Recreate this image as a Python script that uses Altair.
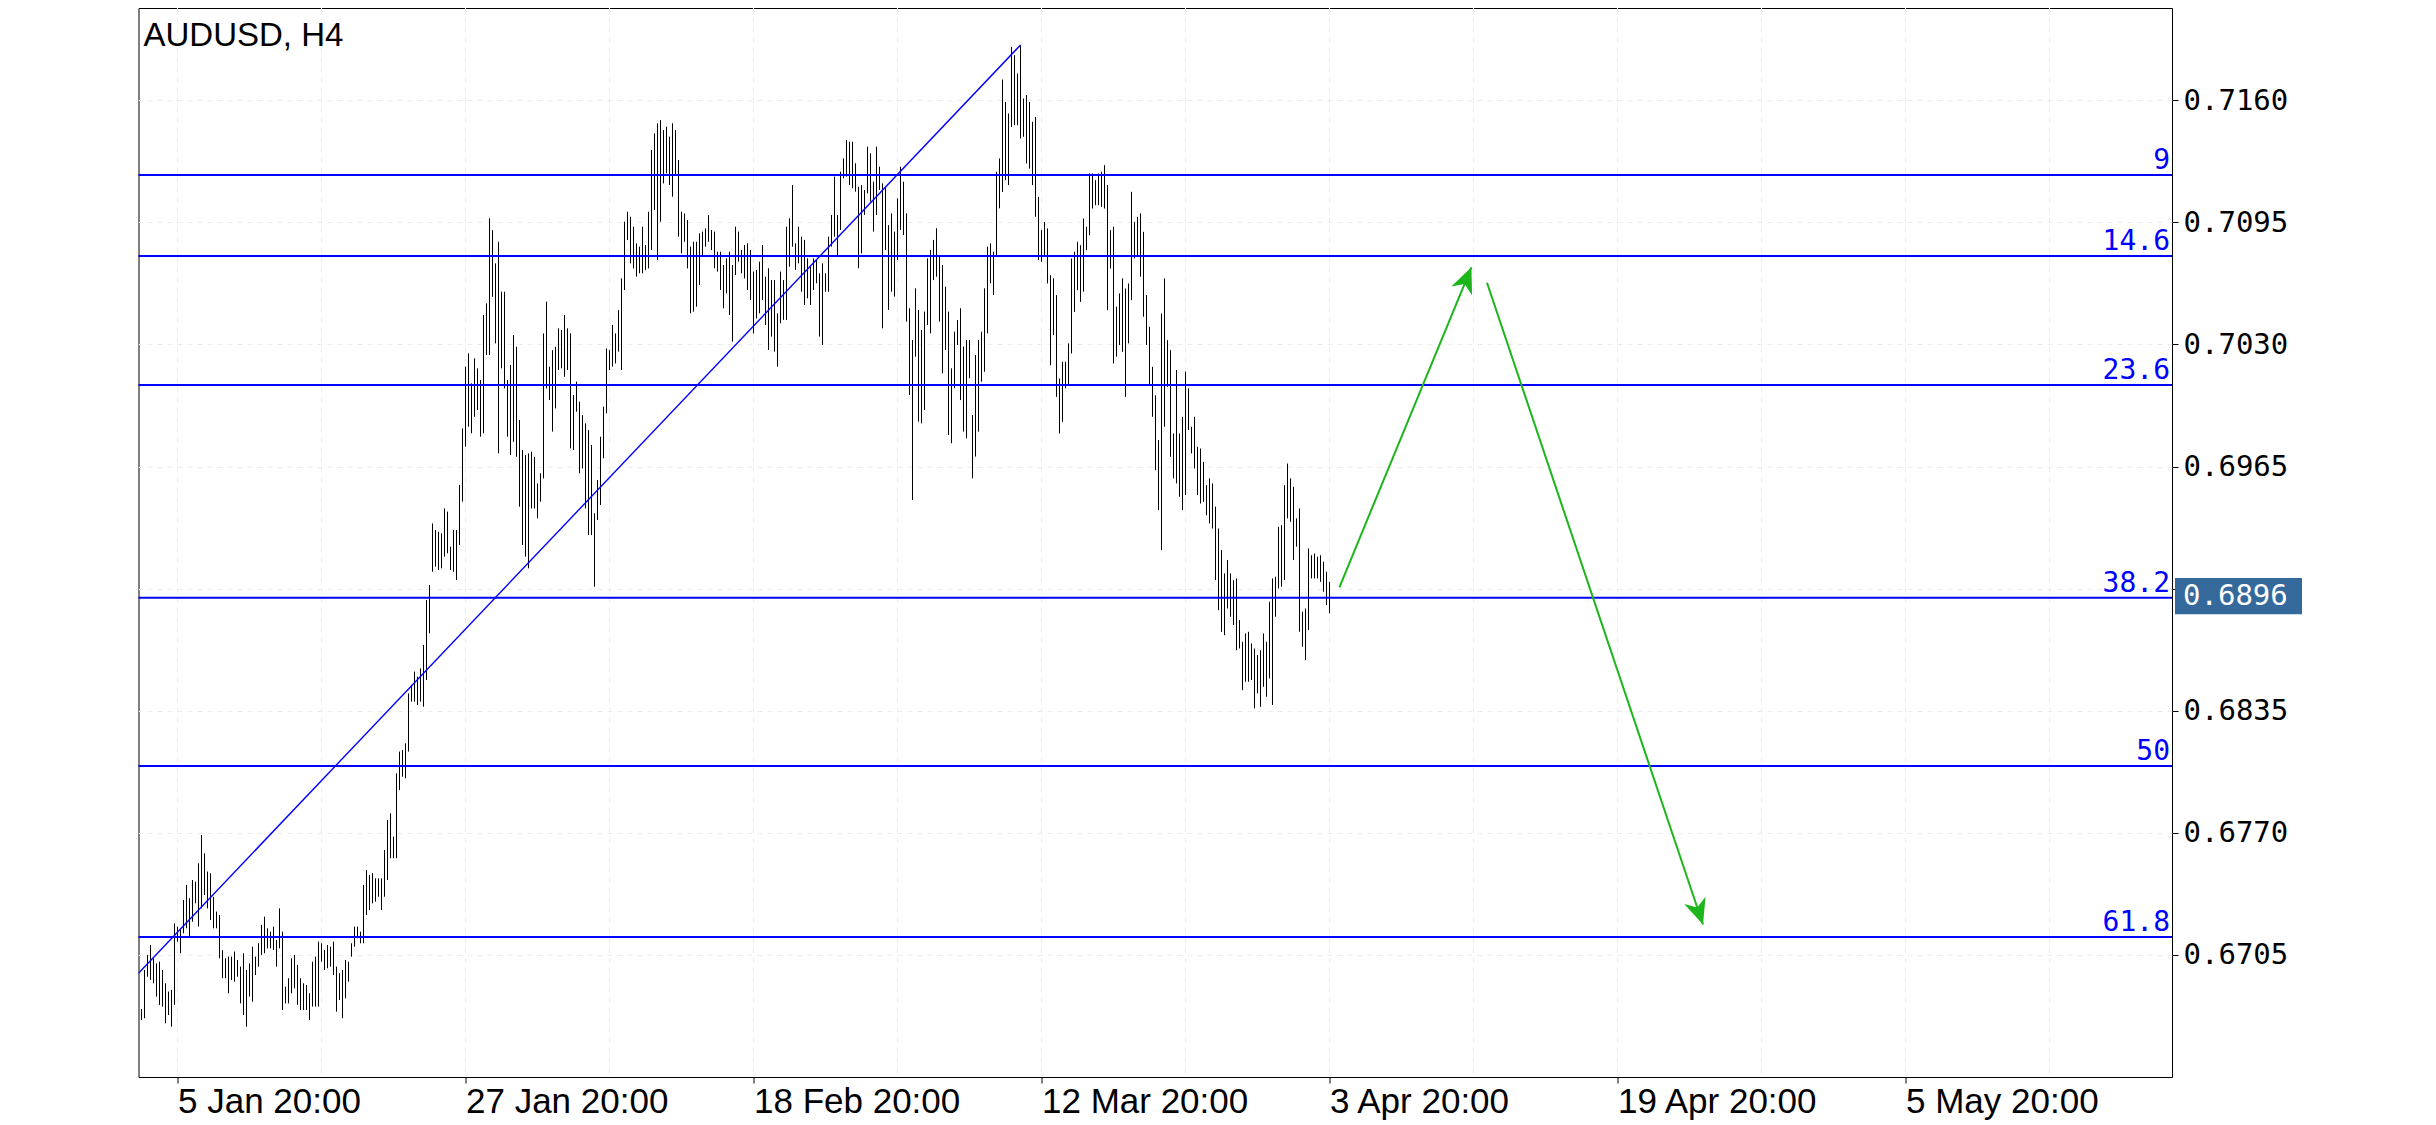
import math
import altair as alt
import pandas as pd

SYMBOL = "AUDUSD, H4"

HIGHS = [
    0.66761, 0.66969, 0.67049, 0.67102, 0.67031, 0.67004, 0.67013, 0.66969, 0.66898, 0.66854,
    0.66863, 0.67217, 0.67200, 0.67182, 0.67342, 0.67422, 0.67351, 0.67448, 0.67439, 0.67537,
    0.67688, 0.67590, 0.67493, 0.67484, 0.67359, 0.67280, 0.67262, 0.67075, 0.67031, 0.67040,
    0.67040, 0.67067, 0.67022, 0.66987, 0.67058, 0.66969, 0.67004, 0.67093, 0.67040, 0.67111,
    0.67209, 0.67253, 0.67191, 0.67173, 0.67200, 0.67129, 0.67297, 0.67173, 0.66880, 0.66925,
    0.67031, 0.67049, 0.66996, 0.66925, 0.66898, 0.66889, 0.66845, 0.67013, 0.67040, 0.67120,
    0.67111, 0.67075, 0.67102, 0.67093, 0.67120, 0.66987, 0.66951, 0.66969, 0.67022, 0.67013,
    0.67111, 0.67200, 0.67200, 0.67173, 0.67422, 0.67501, 0.67475, 0.67484, 0.67457, 0.67457,
    0.67457, 0.67608, 0.67768, 0.67803, 0.67679, 0.68016, 0.68132, 0.68140, 0.68176, 0.68442,
    0.68487, 0.68558, 0.68531, 0.68575, 0.68700, 0.68939,
    0.69019, 0.69347, 0.69312, 0.69303, 0.69294, 0.69427, 0.69410, 0.69223, 0.69312, 0.69312,
    0.69552, 0.69853, 0.70182, 0.70253, 0.70093, 0.70226, 0.70173, 0.70111, 0.70457, 0.70519,
    0.70972, 0.70909, 0.70732, 0.70847, 0.70581, 0.70581, 0.70111, 0.70191, 0.70350, 0.70288,
    0.69898, 0.69738, 0.69711, 0.69720, 0.69729, 0.69702, 0.69560, 0.69614, 0.70359, 0.70528,
    0.70182, 0.70270, 0.70288, 0.70386, 0.70377, 0.70457, 0.70386, 0.70359, 0.70031, 0.70102,
    0.69995, 0.69924, 0.69880, 0.69844, 0.69765, 0.69401, 0.69578, 0.69809, 0.69969, 0.70279,
    0.70270, 0.70404, 0.70359, 0.70483, 0.70652, 0.70954, 0.71007, 0.70980, 0.70927, 0.70838,
    0.70821, 0.70927, 0.70830, 0.71007, 0.71336, 0.71424, 0.71478, 0.71495, 0.71442, 0.71460,
    0.71407, 0.71478, 0.71442, 0.71282, 0.71007, 0.70998, 0.70963, 0.70821, 0.70847, 0.70847,
    0.70892, 0.70901, 0.70918, 0.70989,
    0.70910, 0.70901, 0.70794, 0.70794, 0.70723, 0.70759, 0.70794, 0.70723, 0.70927, 0.70901,
    0.70803, 0.70830, 0.70839, 0.70803, 0.70688, 0.70697, 0.70741, 0.70830, 0.70661, 0.70706,
    0.70643, 0.70643, 0.70466, 0.70688, 0.70643, 0.70927, 0.70972, 0.71149, 0.70839, 0.70927,
    0.70874, 0.70857, 0.70759, 0.70714, 0.70759, 0.70750, 0.70679, 0.70732, 0.70679, 0.70874,
    0.70990, 0.71194, 0.70990, 0.71220, 0.71291, 0.71389, 0.71380, 0.71380, 0.71265, 0.71140,
    0.71149, 0.71123, 0.71353, 0.71318, 0.71167, 0.71353, 0.71247, 0.71158, 0.71140, 0.70936,
    0.70998, 0.70901, 0.71078, 0.71247, 0.71167, 0.70998, 0.70493, 0.70324, 0.70599, 0.70484,
    0.70377, 0.70475, 0.70759, 0.70803, 0.70857, 0.70919, 0.70768, 0.70723, 0.70608, 0.70475,
    0.70173, 0.70368, 0.70430, 0.70493, 0.70289, 0.70324, 0.70324, 0.69925, 0.70244, 0.70324,
    0.70368, 0.70599, 0.70821, 0.70839, 0.70794, 0.71220, 0.71291,
    0.71711, 0.71592, 0.71530, 0.71885, 0.71841, 0.71743, 0.71894, 0.71610, 0.71628, 0.71592,
    0.71486, 0.71512, 0.71086, 0.70909, 0.70953, 0.70918, 0.70669, 0.70652, 0.70563, 0.70119,
    0.70208, 0.70208, 0.70306, 0.70758, 0.70794, 0.70847, 0.70829, 0.70971, 0.70927, 0.71211,
    0.71211, 0.71175, 0.71211, 0.71220, 0.71255, 0.71149, 0.70909, 0.70927, 0.70501, 0.70572,
    0.70652, 0.70598, 0.70625, 0.71113, 0.70953, 0.70980, 0.70998, 0.70900, 0.70563, 0.70394,
    0.70181, 0.70030, 0.69791, 0.70465, 0.70652, 0.70323, 0.70270, 0.69826, 0.70164, 0.69826,
    0.69915, 0.70155, 0.70066,
    0.69862, 0.69915, 0.69755, 0.69746, 0.69675, 0.69551, 0.69587, 0.69560, 0.69436, 0.69320,
    0.69205, 0.69081, 0.69152, 0.69081, 0.69045, 0.69054, 0.68832, 0.68717, 0.68761, 0.68770,
    0.68708, 0.68681, 0.68646, 0.68672, 0.68761, 0.68717, 0.68930, 0.69054, 0.69063, 0.69329,
    0.69338, 0.69551, 0.69666, 0.69587, 0.69542, 0.69374, 0.69427, 0.68877, 0.68894, 0.69214,
    0.69178, 0.69187, 0.69170, 0.69178, 0.69143, 0.69090, 0.69036,
]

LOWS = [
    0.66703, 0.66712, 0.66933, 0.66916, 0.66898, 0.66827, 0.66783, 0.66774, 0.66685, 0.66729,
    0.66667, 0.66783, 0.67120, 0.67058, 0.67164, 0.67191, 0.67146, 0.67226, 0.67324, 0.67200,
    0.67297, 0.67368, 0.67297, 0.67235, 0.67191, 0.67191, 0.67031, 0.66925, 0.66925, 0.66845,
    0.66916, 0.66907, 0.66933, 0.66791, 0.66729, 0.66667, 0.66827, 0.66800, 0.66942, 0.66987,
    0.67049, 0.67058, 0.67084, 0.67084, 0.67075, 0.66987, 0.67084, 0.66756, 0.66791, 0.66791,
    0.66845, 0.66871, 0.66783, 0.66756, 0.66756, 0.66756, 0.66703, 0.66774, 0.66774, 0.66774,
    0.67013, 0.66969, 0.66978, 0.66987, 0.66942, 0.66747, 0.66809, 0.66712, 0.66818, 0.66907,
    0.67040, 0.67093, 0.67138, 0.67111, 0.67111, 0.67262, 0.67288, 0.67324, 0.67333, 0.67359,
    0.67288, 0.67359, 0.67448, 0.67564, 0.67564, 0.67564, 0.67927, 0.67998, 0.67990, 0.68132,
    0.68398, 0.68398, 0.68380, 0.68398, 0.68371, 0.68513,
    0.68762, 0.69090, 0.69117, 0.69099, 0.69108, 0.69170, 0.69188, 0.69099, 0.69090, 0.69046,
    0.69232, 0.69463, 0.69756, 0.69862, 0.69827, 0.69915, 0.69951, 0.69809, 0.69827, 0.70244,
    0.70244, 0.70554, 0.70306, 0.69720, 0.70173, 0.70066, 0.69809, 0.69711, 0.69782, 0.69702,
    0.69436, 0.69232, 0.69170, 0.69108, 0.69427, 0.69427, 0.69374, 0.69463, 0.69587, 0.70066,
    0.70004, 0.69836, 0.69960, 0.70164, 0.70173, 0.70128, 0.70164, 0.69747, 0.69738, 0.69942,
    0.69614, 0.69640, 0.69427, 0.69285, 0.69285, 0.69010, 0.69365, 0.69445, 0.69694, 0.69933,
    0.70164, 0.70182, 0.70199, 0.70262, 0.70164, 0.70590, 0.70856, 0.70732, 0.70705, 0.70661,
    0.70679, 0.70679, 0.70696, 0.70705, 0.70803, 0.71016, 0.70750, 0.70954, 0.71158, 0.71211,
    0.71149, 0.71087, 0.71202, 0.70874, 0.70785, 0.70847, 0.70705, 0.70466, 0.70475, 0.70501,
    0.70617, 0.70776, 0.70821, 0.70847,
    0.70803, 0.70706, 0.70688, 0.70590, 0.70493, 0.70572, 0.70457, 0.70315, 0.70670, 0.70741,
    0.70679, 0.70652, 0.70590, 0.70537, 0.70359, 0.70439, 0.70466, 0.70537, 0.70404, 0.70271,
    0.70342, 0.70262, 0.70182, 0.70413, 0.70431, 0.70431, 0.70714, 0.70821, 0.70697, 0.70732,
    0.70581, 0.70510, 0.70546, 0.70510, 0.70590, 0.70626, 0.70342, 0.70297, 0.70581, 0.70581,
    0.70821, 0.70874, 0.70768, 0.70910, 0.71185, 0.71194, 0.71149, 0.71132, 0.71114, 0.70706,
    0.70785, 0.70990, 0.71105, 0.71061, 0.70901, 0.70990, 0.71123, 0.70386, 0.70803, 0.70484,
    0.70581, 0.70555, 0.70750, 0.70910, 0.70883, 0.70422, 0.70031, 0.69472, 0.70235, 0.69889,
    0.69880, 0.69951, 0.70404, 0.70359, 0.70643, 0.70661, 0.70422, 0.70146, 0.70271, 0.69818,
    0.69774, 0.70067, 0.70297, 0.70004, 0.69836, 0.69800, 0.70120, 0.69587, 0.69703, 0.69836,
    0.70102, 0.70155, 0.70359, 0.70626, 0.70564, 0.70768, 0.71025,
    0.71113, 0.71175, 0.71149, 0.71459, 0.71468, 0.71468, 0.71397, 0.71406, 0.71264, 0.71237,
    0.71149, 0.70980, 0.70749, 0.70740, 0.70767, 0.70625, 0.70190, 0.70350, 0.70021, 0.69826,
    0.69888, 0.70066, 0.70084, 0.70252, 0.70474, 0.70589, 0.70527, 0.70581, 0.70802, 0.70882,
    0.71024, 0.71042, 0.71042, 0.71033, 0.71024, 0.70483, 0.70705, 0.70199, 0.70235, 0.70297,
    0.70261, 0.70021, 0.70306, 0.70536, 0.70758, 0.70767, 0.70661, 0.70448, 0.70297, 0.70084,
    0.69915, 0.69631, 0.69418, 0.69205, 0.69862, 0.70075, 0.69702, 0.69587, 0.69560, 0.69489,
    0.69418, 0.69498, 0.69844,
    0.69720, 0.69640, 0.69498, 0.69453, 0.69462, 0.69391, 0.69347, 0.69320, 0.69045, 0.68885,
    0.68770, 0.68752, 0.68894, 0.68850, 0.68806, 0.68672, 0.68681, 0.68459, 0.68504, 0.68504,
    0.68513, 0.68362, 0.68442, 0.68371, 0.68477, 0.68424, 0.68522, 0.68380, 0.68850, 0.69001,
    0.69010, 0.69045, 0.69374, 0.69356, 0.69152, 0.69223, 0.68770, 0.68690, 0.68619, 0.68779,
    0.69054, 0.69054, 0.69054, 0.69036, 0.68983, 0.68912, 0.68868,
]

FIB_LEVELS = [0.71202, 0.70771, 0.70084, 0.68951, 0.68055, 0.67144]
FIB_LABELS = ["9", "14.6", "23.6", "38.2", "50", "61.8"]

Y_TICKS = [0.6705, 0.6770, 0.6835, 0.6900, 0.6965, 0.7030, 0.7095, 0.7160]
X_TICK_BARS = [12, 108, 204, 300, 396, 492, 588]
X_TICK_LABELS = ["5 Jan 20:00", "27 Jan 20:00", "18 Feb 20:00", "12 Mar 20:00",
                 "3 Apr 20:00", "19 Apr 20:00", "5 May 20:00"]

TREND_BARS = [-1, 293]
TREND_PRICES = [0.66952, 0.71895]

ARROW_IDS = ["up", "up", "down", "down"]
ARROW_BARS = [399.3, 443.3, 448.5, 520.5]
ARROW_PRICES = [0.69007, 0.70711, 0.70629, 0.67211]

LAST_PRICE = 0.6896

# ---------------- layout ----------------
W = 2033.5
H = 1069
X_DOMAIN = [-1.0, 676.8333]
Y_DOMAIN = [0.66399, 0.72092]

FIB_BLUE = "#0000ff"
GREEN = "#1cb51c"
MONO = "DejaVu Sans Mono"
SANS = "Liberation Sans"

xs = alt.Scale(domain=X_DOMAIN, nice=False, zero=False)
ys = alt.Scale(domain=Y_DOMAIN, nice=False, zero=False)

bars = pd.DataFrame({"i": list(range(len(HIGHS))), "high": HIGHS, "low": LOWS})

label_expr = "''"
for v, lab in reversed(list(zip(X_TICK_BARS, X_TICK_LABELS))):
    label_expr = f"datum.value == {v} ? '{lab}' : {label_expr}"

# the label at the last-price level is covered by the price box
y_label_expr = (
    f"abs(datum.value - {LAST_PRICE}) < 0.0010 ? '' : format(datum.value, '.4f')"
)

x_axis = alt.Axis(
    values=X_TICK_BARS, labelExpr=label_expr, orient="bottom", title=None,
    domain=False, grid=False, ticks=True, tickSize=6, tickColor="black",
    labelAlign="left", labelBaseline="top", labelPadding=1, labelFont=SANS,
    labelFontSize=35, labelColor="black", labelFlush=False, labelOverlap=False,
    labelLimit=0,
)
y_axis = alt.Axis(
    values=Y_TICKS, labelExpr=y_label_expr, orient="right", title=None, domain=False,
    grid=True, gridColor="#ececec", gridDash=[5, 5], gridWidth=1,
    ticks=True, tickSize=6, tickColor="black", labelPadding=5,
    labelFont=MONO, labelFontSize=29, labelColor="black",
    labelOverlap=False, labelFlush=False, labelBaseline="middle", labelLimit=0,
)


def X(field):
    return alt.X(field, scale=xs, axis=x_axis)


def Y(field):
    return alt.Y(field, scale=ys, axis=y_axis)


bar_layer = alt.Chart(bars).mark_rule(color="black", strokeWidth=1).encode(
    x=X("i:Q"), y=Y("low:Q"), y2="high:Q",
)

# faint vertical grid every half label step
step = X_TICK_BARS[1] - X_TICK_BARS[0]
grid_pos = sorted(set([t + d for t in X_TICK_BARS for d in (0, step // 2)]))
vgrid = alt.Chart(pd.DataFrame({"g": grid_pos})).mark_rule(
    color="#ececec", strokeWidth=1, strokeDash=[5, 5]
).encode(x=X("g:Q"))

fib = pd.DataFrame({"level": FIB_LEVELS, "label": FIB_LABELS})
fib_lines = alt.Chart(fib).mark_rule(color=FIB_BLUE, strokeWidth=2).encode(
    y=Y("level:Q")
)
fib_text = alt.Chart(fib).mark_text(
    align="right", baseline="alphabetic", dy=-6, font=MONO, fontSize=28, color=FIB_BLUE
).encode(x=alt.value(W - 2), y=Y("level:Q"), text="label:N")

trend = alt.Chart(pd.DataFrame({"i": TREND_BARS, "p": TREND_PRICES})).mark_line(
    color=FIB_BLUE, strokeWidth=1.4, clip=True
).encode(x=X("i:Q"), y=Y("p:Q"))

arrows = pd.DataFrame({"arrow": ARROW_IDS, "i": ARROW_BARS, "p": ARROW_PRICES,
                       "o": [0, 1, 0, 1]})
arrow_lines = alt.Chart(arrows).mark_line(color=GREEN, strokeWidth=2).encode(
    x=X("i:Q"), y=Y("p:Q"), detail="arrow:N", order="o:Q",
)

px_bar = W / (X_DOMAIN[1] - X_DOMAIN[0])
px_price = H / (Y_DOMAIN[1] - Y_DOMAIN[0])
heads = []
for aid in dict.fromkeys(ARROW_IDS):
    idx = [k for k, a in enumerate(ARROW_IDS) if a == aid]
    s, t = idx[0], idx[-1]
    dx = (ARROW_BARS[t] - ARROW_BARS[s]) * px_bar
    dy = -(ARROW_PRICES[t] - ARROW_PRICES[s]) * px_price
    ang = math.degrees(math.atan2(dx, -dy)) % 360
    heads.append({"i": ARROW_BARS[t], "p": ARROW_PRICES[t], "ang": ang})
head_shape = "M0,0 L0.75,1.7 L0,1.2 L-0.75,1.7 Z"
arrow_heads = alt.Chart(pd.DataFrame(heads)).mark_point(
    shape=head_shape, filled=True, size=900, color=GREEN, opacity=1, strokeWidth=0
).encode(x=X("i:Q"), y=Y("p:Q"), angle=alt.Angle("ang:Q", scale=None))

last = pd.DataFrame({"p": [LAST_PRICE], "txt": [f"{LAST_PRICE:.4f}"]})
box_w = 127
price_box = alt.Chart(last).mark_point(
    shape="M-1,-0.285 L1,-0.285 L1,0.285 L-1,0.285 Z", filled=True,
    size=box_w * box_w, color="#35699b", opacity=1, strokeWidth=0
).encode(x=alt.value(W + 3 + box_w / 2), y=Y("p:Q"))
price_txt = alt.Chart(last).mark_text(
    align="left", baseline="middle", font=MONO, fontSize=29, color="white"
).encode(x=alt.value(W + 11), y=Y("p:Q"), text="txt:N")

title = alt.Chart(pd.DataFrame({"t": [SYMBOL]})).mark_text(
    align="left", baseline="alphabetic", font=SANS, fontSize=33, color="black"
).encode(x=alt.value(5), y=alt.value(38), text="t:N")

chart = alt.layer(
    vgrid, bar_layer, fib_lines, trend, fib_text, arrow_lines, arrow_heads,
    price_box, price_txt, title,
).properties(
    width=W, height=H,
    autosize=alt.AutoSizeParams(type="none"),
    padding={"left": 130.5, "top": 0, "right": 250, "bottom": 45},
).configure(background="white").configure_view(stroke="black", strokeWidth=1)

chart.save("out.html", embed_options={"renderer": "svg", "actions": False})
